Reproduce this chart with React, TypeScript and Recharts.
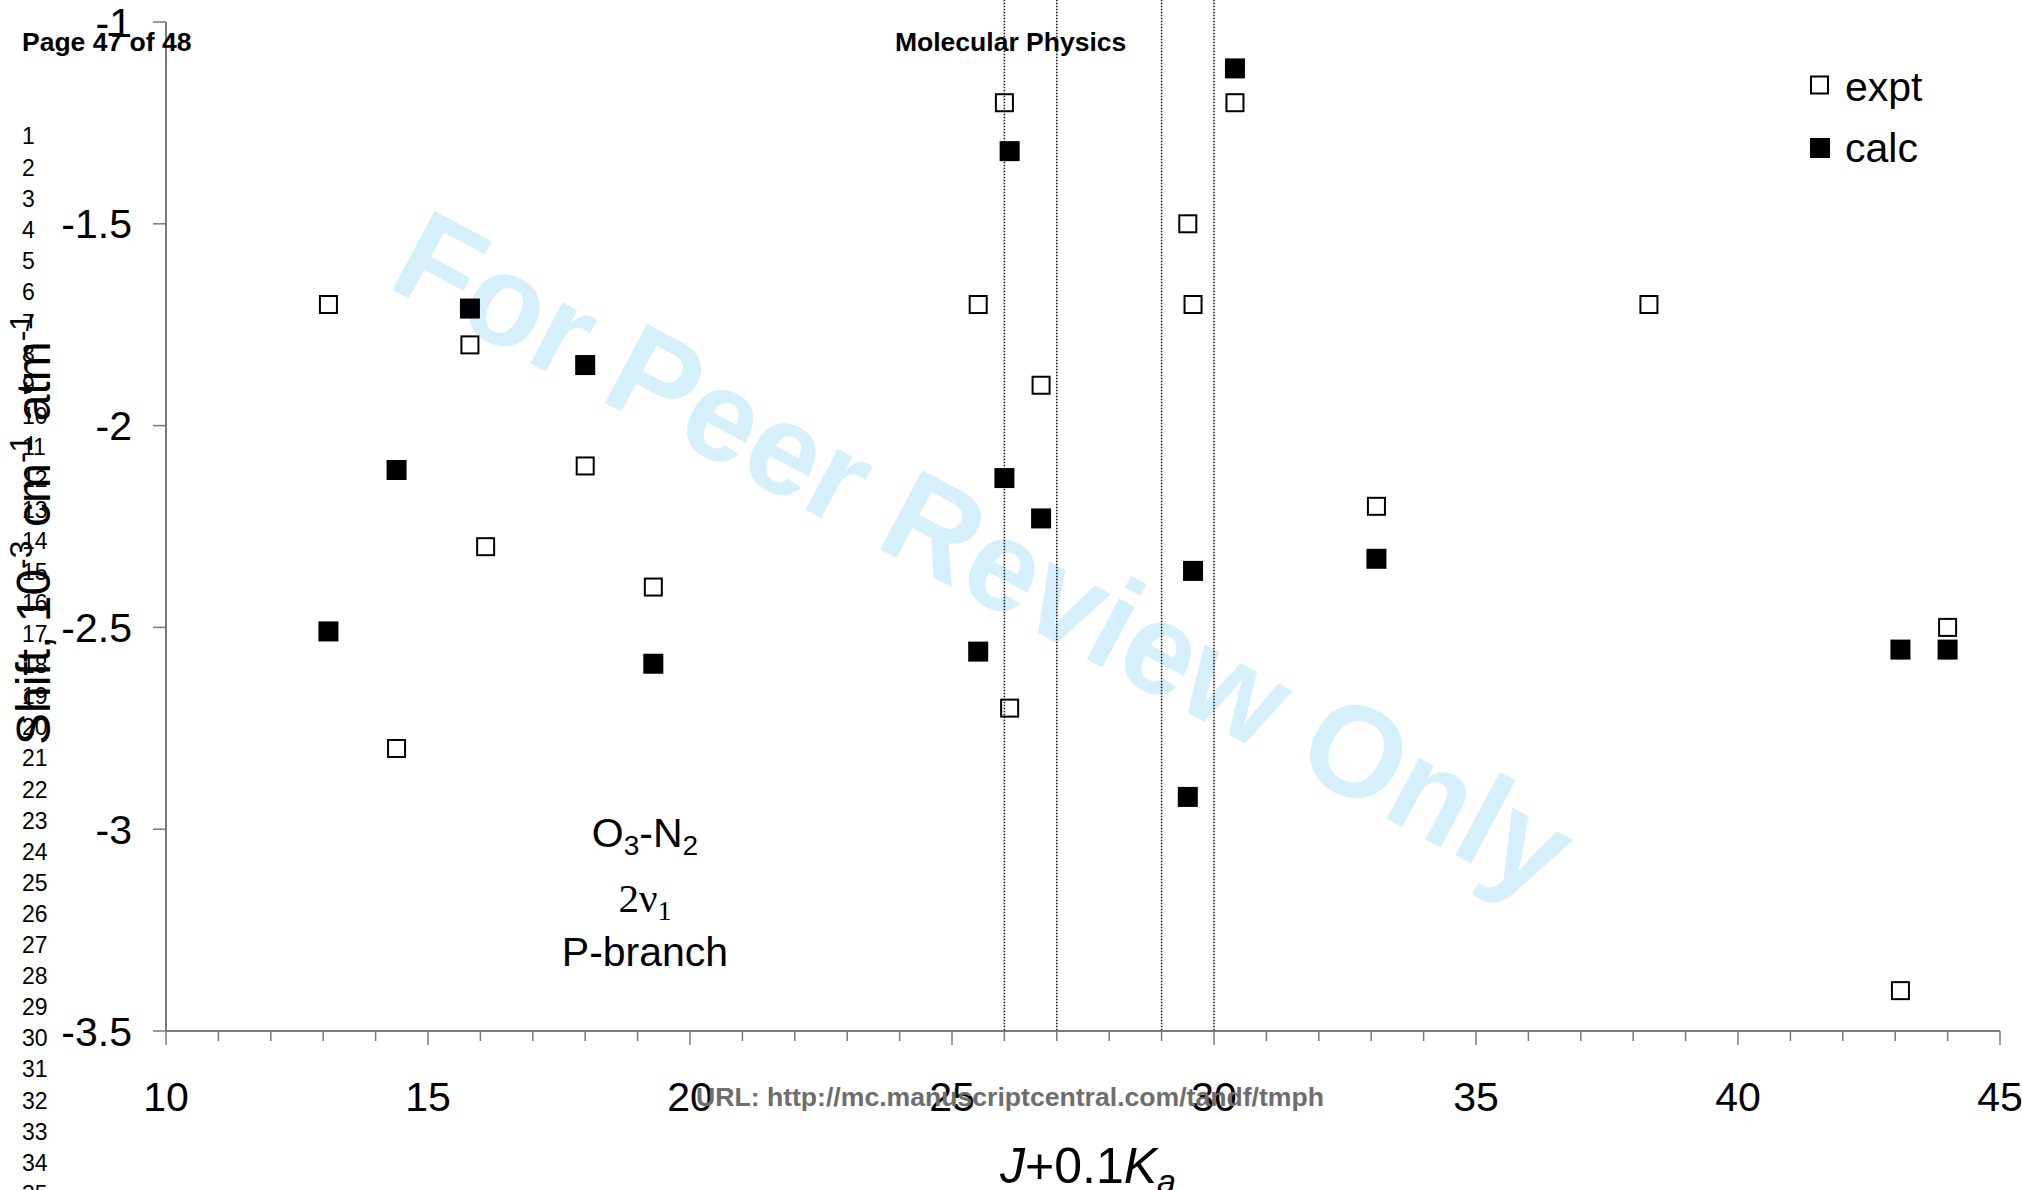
import React from 'react';
import { ScatterChart, Scatter, XAxis, YAxis, ReferenceLine, Legend } from 'recharts';

const FONT = '"Liberation Sans", Arial, Helvetica, sans-serif';
const SERIF = '"Liberation Serif", "Times New Roman", serif';

// J + 0.1 Ka values and shifts (10^-3 cm^-1 atm^-1)
const exptX = [13.1, 15.8, 14.4, 18.0, 16.1, 19.3, 25.5, 26.0, 26.7, 26.1, 29.5, 29.6, 30.4, 33.1, 38.3, 44.0, 43.1];
const exptY = [-1.7, -1.8, -2.8, -2.1, -2.3, -2.4, -1.7, -1.2, -1.9, -2.7, -1.5, -1.7, -1.2, -2.2, -1.7, -2.5, -3.4];
const calcX = [13.1, 14.4, 15.8, 18.0, 19.3, 25.5, 26.1, 26.0, 26.7, 29.5, 29.6, 30.4, 33.1, 43.1, 44.0];
const calcY = [-2.51, -2.11, -1.71, -1.85, -2.59, -2.56, -1.32, -2.13, -2.23, -2.92, -2.36, -1.115, -2.33, -2.555, -2.555];

const xTicks = [10, 11, 12, 13, 14, 15, 16, 17, 18, 19, 20, 21, 22, 23, 24, 25, 26, 27, 28, 29, 30, 31, 32, 33, 34, 35, 36, 37, 38, 39, 40, 41, 42, 43, 44, 45];
const yTicks = [-3.5, -3, -2.5, -2, -1.5, -1];
const dottedX = [26, 27, 29, 30];
const lineNumbers = ['1', '2', '3', '4', '5', '6', '7', '8', '9', '10', '11', '12', '13', '14', '15', '16', '17', '18', '19', '20', '21', '22', '23', '24', '25', '26', '27', '28', '29', '30', '31', '32', '33', '34', '35'];

const exptData = exptX.map((x, i) => ({ x, y: exptY[i] }));
const calcData = calcX.map((x, i) => ({ x, y: calcY[i] }));

const AXIS = '#7a7a7a';

const OpenSquare = (p: any) => (
  <rect x={p.cx - 8.5} y={p.cy - 8.5} width={17} height={17} fill="none" stroke="#000" strokeWidth={2} />
);
const FilledSquare = (p: any) => (
  <rect x={p.cx - 10} y={p.cy - 10} width={20} height={20} fill="#000" />
);

const XTick = (props: any) => {
  const { x, y, payload } = props;
  const v = payload.value;
  const major = v % 5 === 0;
  return (
    <g>
      <line x1={x} x2={x} y1={y} y2={y + (major ? 14 : 10)} stroke={AXIS} strokeWidth={1.5} />
      {major && (
        <text x={x} y={y + 51} dy="0.71em" textAnchor="middle" fontSize={41} fill="#000" fontFamily={FONT}>
          {v}
        </text>
      )}
    </g>
  );
};

const LegendContent = () => (
  <svg width={220} height={120} style={{ overflow: 'visible' }}>
    <rect x={11} y={16.5} width={17} height={17} fill="none" stroke="#000" strokeWidth={2} />
    <text x={45} y={40.5} fontSize={41} fontFamily={FONT} fill="#000">expt</text>
    <rect x={10} y={78} width={20} height={20} fill="#000" />
    <text x={45} y={102.3} fontSize={41} fontFamily={FONT} fill="#000">calc</text>
  </svg>
);

export default function App() {
  return (
    <div style={{ position: 'absolute', left: 0, top: 0, width: 2022, height: 1190, background: '#fff', overflow: 'hidden' }}>
      {/* watermark (behind) */}
      <svg width={2022} height={1190} style={{ position: 'absolute', left: 0, top: 0 }}>
        <text
          x={385}
          y={286}
          transform="rotate(28 385 286)"
          fontSize={130}
          fontWeight="bold"
          fontFamily={FONT}
          fill="#d5effb"
          textLength={1310}
          lengthAdjust="spacingAndGlyphs"
        >
          For Peer Review Only
        </text>
      </svg>

      <div style={{ position: 'absolute', left: 0, top: 0 }}>
        <ScatterChart width={2022} height={1190} margin={{ top: 22, right: 22, bottom: 129, left: 106 }}>
          <XAxis
            type="number"
            dataKey="x"
            domain={[10, 45]}
            ticks={xTicks}
            interval={0}
            height={30}
            tickSize={0}
            tickMargin={0}
            tickLine={false}
            tick={<XTick />}
            axisLine={{ stroke: AXIS, strokeWidth: 2 }}
            allowDataOverflow
          />
          <YAxis
            type="number"
            dataKey="y"
            domain={[-3.5, -1]}
            ticks={yTicks}
            interval={0}
            width={60}
            tickSize={13}
            tickMargin={21}
            tickLine={{ stroke: AXIS, strokeWidth: 1.5 }}
            axisLine={{ stroke: AXIS, strokeWidth: 2 }}
            tick={{ fontSize: 41, fill: '#000', fontFamily: FONT }}
            allowDataOverflow
          />
          {dottedX.map((d) => (
            <ReferenceLine
              key={d}
              segment={[{ x: d, y: -0.945 }, { x: d, y: -3.5 }]}
              ifOverflow="visible"
              stroke="#111"
              strokeWidth={1.5}
              strokeDasharray="1.5 1.5"
            />
          ))}
          <Scatter name="expt" data={exptData} shape={OpenSquare} isAnimationActive={false} />
          <Scatter name="calc" data={calcData} shape={FilledSquare} isAnimationActive={false} />
          <Legend
            layout="vertical"
            align="center"
            verticalAlign="middle"
            content={<LegendContent />}
            wrapperStyle={{ left: 1800, top: 60, width: 220, height: 120 }}
          />
        </ScatterChart>
      </div>

      {/* overlay texts */}
      <svg width={2022} height={1190} style={{ position: 'absolute', left: 0, top: 0, pointerEvents: 'none' }}>
        {lineNumbers.map((n, i) => (
          <text key={n} x={22} y={144.4 + i * 31.1} fontSize={23} fontFamily={FONT} fill="#000">
            {n}
          </text>
        ))}
        <text x={22} y={51} fontSize={26.5} fontWeight="bold" fontFamily={FONT} fill="#000">Page 47 of 48</text>
        <text x={895} y={51} fontSize={26.5} fontWeight="bold" fontFamily={FONT} fill="#000">Molecular Physics</text>
        <text x={696} y={1106} fontSize={26.5} fontWeight="bold" fontFamily={FONT} fill="#6d6d6d" textLength={628} lengthAdjust="spacingAndGlyphs">
          URL: http://mc.manuscriptcentral.com/tandf/tmph
        </text>

        {/* y axis title */}
        <text x={50} y={745} transform="rotate(-90 50 745)" fontSize={48} fontFamily={FONT} fill="#000">
          <tspan>Shift, 10</tspan>
          <tspan fontSize={32} dy={-18}>-3</tspan>
          <tspan dy={18}> cm</tspan>
          <tspan fontSize={32} dy={-18}>-1</tspan>
          <tspan dy={18}> atm</tspan>
          <tspan fontSize={32} dy={-18}>-1</tspan>
        </text>

        {/* x axis title */}
        <text x={1000} y={1183} fontSize={50} fontFamily={FONT} fill="#000">
          <tspan fontStyle="italic">J</tspan>
          <tspan>+0.1</tspan>
          <tspan fontStyle="italic">K</tspan>
          <tspan fontStyle="italic" fontSize={34} dy={10}>a</tspan>
        </text>

        {/* annotation */}
        <text x={645} y={847} textAnchor="middle" fontSize={41} fontFamily={FONT} fill="#000">
          <tspan>O</tspan>
          <tspan fontSize={28} dy={8}>3</tspan>
          <tspan dy={-8}>-N</tspan>
          <tspan fontSize={28} dy={8}>2</tspan>
        </text>
        <text x={645} y={912} textAnchor="middle" fontSize={41} fontFamily={SERIF} fill="#000">
          <tspan>2ν</tspan>
          <tspan fontSize={28} dy={8}>1</tspan>
        </text>
        <text x={645} y={966} textAnchor="middle" fontSize={41} fontFamily={FONT} fill="#000">P-branch</text>
      </svg>
    </div>
  );
}
